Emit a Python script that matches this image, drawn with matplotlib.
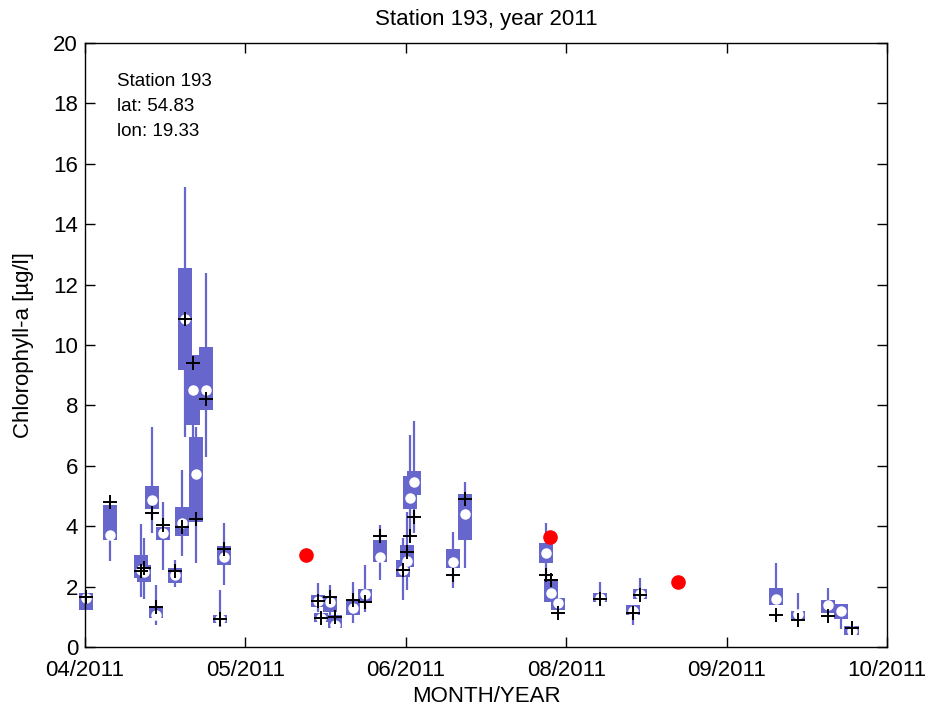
import numpy as np
import matplotlib
matplotlib.use("Agg")
import matplotlib.pyplot as plt
from matplotlib.patches import Rectangle

plt.rcParams['font.family'] = ['Liberation Sans', 'DejaVu Sans']

# day offset from the left edge of the axis (04/2011)
days      = [0.2, 5.7, 12.8, 13.5, 16.2, 15.3, 17.8, 20.5, 22.1, 22.8, 24.6, 27.5, 25.3,
             31.8, 30.8, 53.2, 53.8, 55.9, 57.0, 61.1, 63.9, 67.3, 72.6, 73.5, 74.1, 75.1,
             84.0, 86.6, 105.2, 106.3, 108.0, 117.5, 125.1, 126.6,
             157.7, 162.7, 169.5, 172.4, 174.9]
box_lo    = [1.23, 3.54, 2.30, 2.15, 0.96, 4.57, 3.54, 2.12, 3.68, 9.17, 7.35, 7.85, 4.14,
             2.72, 0.79, 1.32, 0.83, 1.16, 0.63, 1.06, 1.46, 2.81, 2.32, 2.65, 4.57, 5.03,
             2.62, 3.54, 2.78, 1.49, 1.23, 1.49, 1.06, 1.59,
             1.39, 0.89, 1.13, 0.93, 0.40]
box_hi    = [1.80, 4.70, 3.05, 2.70, 1.32, 5.33, 3.97, 2.62, 4.64, 12.55, 9.67, 9.93, 6.95,
             3.34, 1.06, 1.72, 1.13, 1.66, 1.06, 1.56, 1.92, 3.54, 2.88, 3.38, 5.66, 5.83,
             3.24, 5.07, 3.44, 2.25, 1.62, 1.79, 1.39, 1.92,
             1.95, 1.19, 1.56, 1.42, 0.70]
whisk_lo  = [1.23, 2.85, 1.65, 1.60, 0.73, 3.77, 2.55, 2.00, 3.01, 6.95, 6.95, 6.29, 2.78,
             2.05, 0.66, 1.16, 0.83, 1.00, 0.63, 0.79, 1.16, 2.22, 1.56, 1.89, 3.70, 3.77,
             1.95, 2.62, 2.22, 1.49, 1.23, 1.45, 0.73, 1.59,
             1.39, 0.89, 1.13, 0.60, 0.40]
whisk_hi  = [1.80, 4.70, 4.07, 3.60, 2.05, 7.28, 4.80, 2.88, 5.86, 15.23, 9.67, 12.38, 7.30,
             4.10, 1.89, 2.12, 1.13, 2.05, 1.06, 2.15, 2.72, 4.04, 3.60, 4.47, 7.02, 7.48,
             3.81, 5.46, 4.10, 2.25, 1.62, 2.15, 1.39, 2.28,
             2.78, 1.79, 1.95, 1.42, 0.70]
median    = [1.62, 3.71, 2.55, 2.50, 1.06, 4.87, 3.77, 2.38, 4.10, 10.86, 8.51, 8.51, 5.73,
             2.98, 0.92, 1.52, 0.96, 1.49, 0.73, 1.29, 1.75, 2.98, 2.55, 2.85, 4.93, 5.46,
             2.81, 4.40, 3.11, 1.79, 1.46, 1.62, 1.20, 1.75,
             1.59, 1.09, 1.39, 1.19, 0.53]
observed  = [1.65, 4.80, 2.52, 2.60, 1.32, 4.43, 4.04, 2.52, 3.97, 10.86, 9.40, 8.21, 4.24,
             3.24, 0.93, 1.52, 0.96, 1.65, 1.00, 1.56, 1.49, 3.68, 2.55, 3.15, 3.68, 4.30,
             2.38, 4.90, 2.38, 2.22, 1.13, 1.59, 1.13, 1.72,
             1.06, 0.89, 1.03, np.nan, 0.63]

# red dots (single values)
red_days = [50.4, 106.1, 135.3]
red_vals = [3.05, 3.64, 2.15]

xtick_labels = ['04/2011', '05/2011', '06/2011', '08/2011', '09/2011', '10/2011']
x_span = 183.0

blue = '#6666cc'
box_w = 3.2

fig = plt.figure(figsize=(9.26, 7.09), dpi=100)
ax = fig.add_axes([85 / 926, 1 - 647 / 709, (887 - 85) / 926, (647 - 43) / 709])

for i in range(len(days)):
    d = days[i]
    ax.plot([d, d], [whisk_lo[i], whisk_hi[i]], color=blue, lw=1.6, zorder=2,
            solid_capstyle='butt', clip_on=False)
    ax.add_patch(Rectangle((d - box_w / 2, box_lo[i]), box_w, box_hi[i] - box_lo[i],
                           facecolor=blue, edgecolor='none', zorder=2, clip_on=False))
    ax.plot(d, median[i], 'o', ms=6.5, mfc='white', mec='white', zorder=3, clip_on=False)

ax.plot(days, observed, '+', color='black', ms=10, mew=1.4, zorder=4, ls='none',
        clip_on=False)
ax.plot(red_days, red_vals, 'o', color='red', ms=9.5, zorder=5, ls='none')

ax.set_xlim(0, x_span)
ax.set_ylim(0, 20)
ax.set_xticks(np.linspace(0, x_span, 6))
ax.set_xticklabels(xtick_labels)
ax.set_yticks(np.arange(0, 21, 2))
ax.tick_params(direction='in', top=True, right=True, length=7, width=1,
               labelsize=16)
ax.tick_params(axis='x', pad=9)
ax.tick_params(axis='y', pad=5)
for s in ax.spines.values():
    s.set_linewidth(1)
    s.set_zorder(6)

ax.set_title('Station 193, year 2011', fontsize=16, pad=13)
ax.set_xlabel('MONTH/YEAR', fontsize=16, labelpad=4)
ax.set_ylabel('Chlorophyll-a [\u00b5g/l]', fontsize=16, labelpad=14)

ax.text(0.04, 0.95, 'Station 193\nlat: 54.83\nlon: 19.33', transform=ax.transAxes,
        fontsize=13.5, va='top', ha='left', linespacing=1.62)

fig.savefig('out.png', dpi=100)
